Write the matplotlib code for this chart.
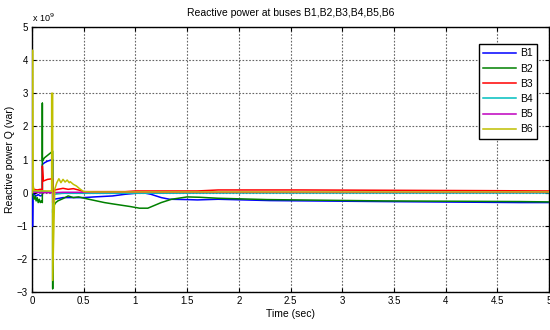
import numpy as np
import matplotlib
matplotlib.use("Agg")
import matplotlib.pyplot as plt

plt.rcParams['font.family'] = ['Liberation Sans', 'DejaVu Sans']

# values in units of 1e9 var
t_b1 = [0.005, 0.005, 0.008, 0.02, 0.04, 0.06, 0.08, 0.1, 0.1, 0.12, 0.15, 0.2, 0.2, 0.21, 0.25, 0.3, 0.4, 0.5,
        0.6, 0.78, 0.9, 1.0, 1.07, 1.15, 1.25, 1.33, 1.5, 1.6, 1.8, 2.3, 3.4, 4.72, 5.0]
q_b1 = [0, -1.02, -0.08, -0.05, -0.1, -0.06, -0.1, -0.08, 0.85, 0.9, 0.95, 1.0, -0.15, -0.2, -0.18, -0.15, -0.15, -0.15,
        -0.13, -0.1, -0.05, -0.02, 0.0, -0.05, -0.15, -0.2, -0.21, -0.22, -0.2, -0.24, -0.27, -0.3, -0.3]

t_b2 = [0, 0.01, 0.02, 0.03, 0.04, 0.05, 0.06, 0.07, 0.08, 0.09, 0.1, 0.1, 0.1, 0.12, 0.14, 0.16, 0.18, 0.2,
        0.2, 0.2, 0.21, 0.23, 0.25, 0.3, 0.35, 0.4, 0.45, 0.55, 0.7, 0.78, 0.95, 1.04, 1.12, 1.25, 1.35, 1.5,
        1.62, 1.8, 2.27, 3.4, 4.72, 5.0]
q_b2 = [0, -0.1, -0.2, -0.1, -0.25, -0.15, -0.3, -0.2, -0.3, -0.25, -0.3, 2.7, 0.95, 1.05, 1.1, 1.15, 1.2, 1.25,
        -2.9, -0.5, -0.4, -0.3, -0.25, -0.18, -0.1, -0.15, -0.13, -0.2, -0.3, -0.34, -0.42, -0.47, -0.47, -0.3, -0.2, -0.13,
        -0.14, -0.17, -0.21, -0.25, -0.27, -0.28]

t_b3 = [0, 0.02, 0.05, 0.08, 0.1, 0.1, 0.11, 0.15, 0.2, 0.2, 0.22, 0.25, 0.3, 0.35, 0.4, 0.45, 0.5, 0.9,
        1.0, 1.6, 1.8, 2.6, 4.4, 5.0]
q_b3 = [0.05, 0.1, 0.08, 0.1, 0.09, 0.8, 0.35, 0.4, 0.42, 0.0, 0.08, 0.1, 0.13, 0.1, 0.12, 0.08, 0.03, 0.03,
        0.05, 0.05, 0.08, 0.08, 0.06, 0.05]

t_b4 = [0, 0.02, 0.1, 0.2, 0.2, 0.21, 0.3, 1.0, 2.0, 5.0]
q_b4 = [0, 0.05, 0.05, 0.0, -0.6, -0.05, -0.02, -0.02, -0.01, -0.01]

t_b5 = [0, 0.1, 0.2, 0.2, 0.21, 0.3, 1.0, 5.0]
q_b5 = [0.02, 0.0, 0.0, -0.3, 0.0, 0.01, 0.01, 0.01]

t_b6 = [0.005, 0.005, 0.008, 0.012, 0.02, 0.1, 0.19, 0.19, 0.2, 0.2, 0.22, 0.24, 0.26, 0.28, 0.3, 0.32, 0.34, 0.36, 0.37,
        0.4, 0.43, 0.46, 0.5, 0.6, 1.0, 2.0, 5.0]
q_b6 = [0, 4.3, 0.3, 0.2, 0.06, 0.05, 0.05, 3.0, 3.0, -2.65, 0.1, 0.3, 0.42, 0.3, 0.4, 0.32, 0.38, 0.3, 0.33,
        0.25, 0.2, 0.12, 0.03, 0.02, 0.02, 0.02, 0.02]

names = ['B1', 'B2', 'B3', 'B4', 'B5', 'B6']
colors = ['#0000FF', '#008000', '#FF0000', '#00BFBF', '#BF00BF', '#BFBF00']
series = [(t_b1, q_b1), (t_b2, q_b2), (t_b3, q_b3), (t_b4, q_b4), (t_b5, q_b5), (t_b6, q_b6)]

fig = plt.figure(figsize=(5.5, 3.3), dpi=100)
ax = fig.add_axes([32/550, 1 - 292/330, 517/550, 265/330])

for (t, q), n, c in zip(series, names, colors):
    ax.plot(t, q, color=c, lw=1.1, label=n, zorder=3)

ax.set_xlim(0, 5)
ax.set_ylim(-3, 5)
ax.set_xticks(np.arange(0, 5.01, 0.5))
ax.set_xticklabels(['0', '0.5', '1', '1.5', '2', '2.5', '3', '3.5', '4', '4.5', '5'])
ax.set_yticks(range(-3, 6))
ax.grid(True, linestyle=(0, (1.5, 1.5)), color='0.4', lw=0.8)
ax.tick_params(direction='in', top=True, right=True, labelsize=7, length=3, pad=3)
for s in ax.spines.values():
    s.set_linewidth(1.0)

ax.set_title('Reactive power at buses B1,B2,B3,B4,B5,B6', fontsize=7.5, pad=8)
ax.set_xlabel('Time (sec)', fontsize=7.5, labelpad=2)
ax.set_ylabel('Reactive power Q (var)', fontsize=7.5, labelpad=1)
ax.text(0.0, 1.012, 'x 10$^{9}$', transform=ax.transAxes, fontsize=6.5, ha='left', va='bottom')

leg = ax.legend(loc='upper right', bbox_to_anchor=(0.977, 0.935), fontsize=7.5, fancybox=False,
                framealpha=1, edgecolor='black', handlelength=3.2, borderpad=0.4, labelspacing=0.5,
                handletextpad=0.4, borderaxespad=0)
leg.get_frame().set_linewidth(1.0)

fig.savefig('out.png', dpi=100)
